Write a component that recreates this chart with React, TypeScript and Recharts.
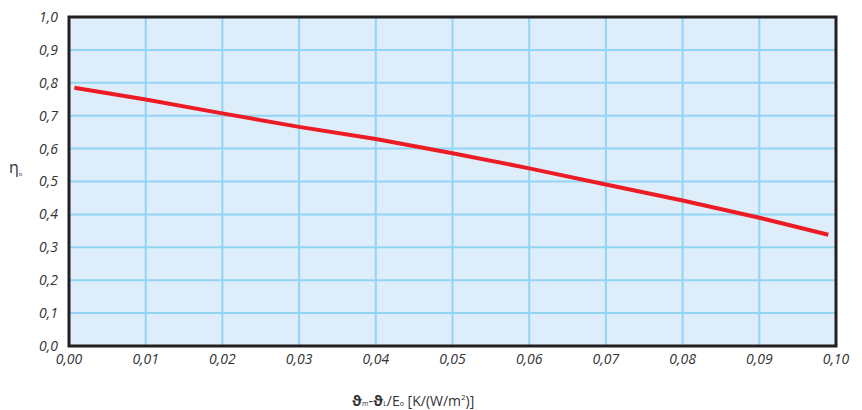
import { LineChart, Line, XAxis, YAxis, CartesianGrid, ReferenceArea } from 'recharts';

// temperature difference / irradiance, K/(W/m²)
const xValues = [0.0007, 0.01, 0.02, 0.03, 0.04, 0.05, 0.06, 0.07, 0.08, 0.09, 0.099];
// collector efficiency η0
const etaValues = [0.785, 0.749, 0.707, 0.666, 0.629, 0.586, 0.54, 0.491, 0.442, 0.39, 0.338];

const xTicks = [0, 0.01, 0.02, 0.03, 0.04, 0.05, 0.06, 0.07, 0.08, 0.09, 0.1];
const yTicks = [0, 0.1, 0.2, 0.3, 0.4, 0.5, 0.6, 0.7, 0.8, 0.9, 1.0];

const data = xValues.map((x, i) => ({ x, eta: etaValues[i] }));

const font = '"Open Sans", "DejaVu Sans", sans-serif';
const tickStyle = { fontSize: 14, fill: '#333', fontStyle: 'italic', fontFamily: font };
const comma = (v: number, d: number) => v.toFixed(d).replace('.', ',');

export default function App() {
  return (
    <div style={{ position: 'absolute', left: 0, top: 0, width: 862, height: 410, background: '#fff', fontFamily: font }}>
      <LineChart width={862} height={410} data={data} margin={{ top: 17, right: 26, left: 0, bottom: 0 }}>
        <CartesianGrid fill="#ddeefa" stroke="#92d4f4" strokeWidth={2} />
        <XAxis
          type="number"
          dataKey="x"
          domain={[0, 0.1]}
          ticks={xTicks}
          interval={0}
          height={64}
          axisLine={false}
          tickLine={false}
          tickSize={0}
          tickMargin={8}
          tick={tickStyle}
          tickFormatter={(v: number) => comma(v, 2)}
        />
        <YAxis
          type="number"
          domain={[0, 1]}
          ticks={yTicks}
          interval={0}
          width={69}
          axisLine={false}
          tickLine={false}
          tickSize={0}
          tickMargin={11}
          tick={tickStyle}
          tickFormatter={(v: number) => comma(v, 1)}
        />
        <ReferenceArea x1={0} x2={0.1} y1={0} y2={1} fill="none" fillOpacity={0} stroke="#231f20" strokeWidth={3} ifOverflow="visible" />
        <Line type="linear" dataKey="eta" stroke="#ed1c24" strokeWidth={4} dot={false} isAnimationActive={false} />
      </LineChart>
      <div style={{ position: 'absolute', left: 9, top: 156, fontSize: 16, color: '#333' }}>
        η<span style={{ fontSize: 6, verticalAlign: -3 }}>o</span>
      </div>
      <div style={{ position: 'absolute', left: 0, width: 826, top: 391, textAlign: 'center', fontSize: 14, color: '#333' }}>
        <b>ϑ</b><span style={{ fontSize: 7 }}>m</span>-<b>ϑ</b><span style={{ fontSize: 7 }}>L</span>/E<span style={{ fontSize: 7 }}>o</span> [K/(W/m<sup style={{ fontSize: 8 }}>2</sup>)]
      </div>
    </div>
  );
}
